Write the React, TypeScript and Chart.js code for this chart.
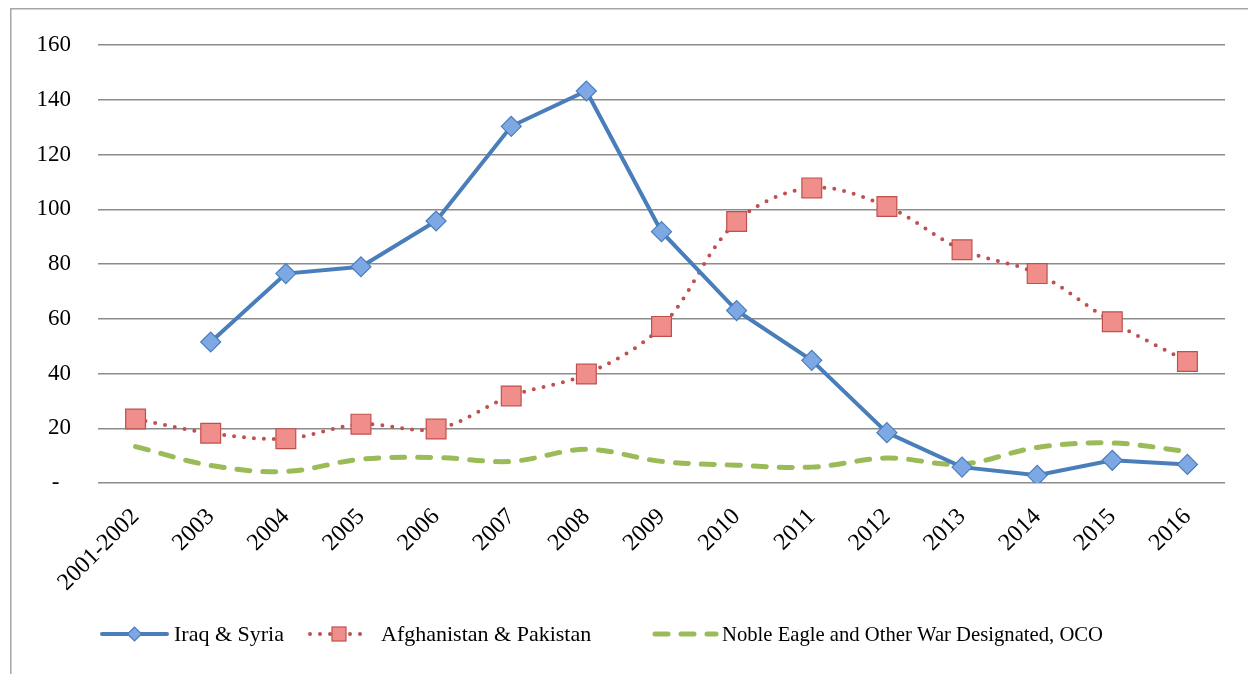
import React, { useEffect, useRef } from "react";
import { Chart, registerables } from "chart.js";

Chart.register(...registerables);

const categories = ["2001-2002", "2003", "2004", "2005", "2006", "2007", "2008", "2009", "2010", "2011", "2012", "2013", "2014", "2015", "2016"];
const iraqSyria = [null, 51.5, 76.5, 79, 95.7, 130.3, 143.2, 91.8, 63, 44.8, 18.4, 5.8, 2.8, 8.3, 6.8];
const afghanPak = [23.4, 18.2, 16.2, 21.5, 19.7, 31.8, 39.8, 57.2, 95.5, 107.8, 101, 85.2, 76.5, 58.9, 44.4];
const nobleEagle = [13.3, 6.4, 4.2, 8.7, 9.3, 7.9, 12.3, 7.9, 6.5, 5.8, 9.1, 6.9, 13, 14.6, 11.5];
const yTicks = [0, 20, 40, 60, 80, 100, 120, 140, 160];
const seriesNames = ["Iraq & Syria", "Afghanistan & Pakistan", "Noble Eagle and Other War Designated, OCO"];

const BLUE = "#4a7ebb";
const BLUE_FILL = "#7ea8e4";
const RED = "#c0504d";
const RED_FILL = "#f08e8b";
const GREEN = "#9bbb59";
const FONT = "'Liberation Serif', 'Times New Roman', serif";

const framePlugin = {
  id: "frame",
  beforeDraw(chart: any) {
    const ctx = chart.ctx;
    ctx.save();
    ctx.strokeStyle = "#a6a6a6";
    ctx.lineWidth = 1.5;
    ctx.strokeRect(10.75, 8.75, 1400, 800);
    ctx.restore();
  },
};

const legendPlugin = {
  id: "customLegend",
  afterDraw(chart: any) {
    const ctx = chart.ctx;
    const y = 634;
    ctx.save();
    ctx.font = `22px ${FONT}`;
    ctx.textBaseline = "middle";
    ctx.fillStyle = "#000";
    const starts = [102, 308, 655];
    const sampleW = [65, 62, 61];
    const textGap = [7, 11, 6];
    const maxW = [120, 216, 381];
    chart.data.datasets.forEach((ds: any, i: number) => {
      const x0 = starts[i];
      const x1 = x0 + sampleW[i];
      ctx.save();
      ctx.strokeStyle = ds.borderColor;
      ctx.lineWidth = ds.borderWidth;
      ctx.lineCap = ds.borderCapStyle || "butt";
      ctx.setLineDash(ds.borderDash || []);
      ctx.beginPath();
      ctx.moveTo(x0 + (i === 1 ? 2 : 0), y);
      ctx.lineTo(x1, y);
      ctx.stroke();
      ctx.restore();
      const cx = (x0 + x1) / 2;
      if (i === 0) {
        ctx.save();
        ctx.fillStyle = BLUE_FILL;
        ctx.strokeStyle = BLUE;
        ctx.lineWidth = 1.2;
        ctx.beginPath();
        ctx.moveTo(cx - 7, y);
        ctx.lineTo(cx, y - 7);
        ctx.lineTo(cx + 7, y);
        ctx.lineTo(cx, y + 7);
        ctx.closePath();
        ctx.fill();
        ctx.stroke();
        ctx.restore();
      } else if (i === 1) {
        ctx.save();
        ctx.fillStyle = RED_FILL;
        ctx.strokeStyle = RED;
        ctx.lineWidth = 1.2;
        ctx.fillRect(cx - 7, y - 7, 14, 14);
        ctx.strokeRect(cx - 7, y - 7, 14, 14);
        ctx.restore();
      }
      ctx.fillStyle = "#000";
      ctx.fillText(seriesNames[i], x1 + textGap[i], y + 1, maxW[i]);
    });
    ctx.restore();
  },
};

export default function App() {
  const ref = useRef<HTMLCanvasElement>(null);
  useEffect(() => {
    if (!ref.current) return;
    const chart = new Chart(ref.current, {
      type: "line",
      data: {
        labels: categories,
        datasets: [
          {
            label: seriesNames[0],
            data: iraqSyria,
            borderColor: BLUE,
            borderWidth: 4,
            backgroundColor: BLUE_FILL,
            pointStyle: "rectRot",
            pointRadius: 10,
            pointBackgroundColor: BLUE_FILL,
            pointBorderColor: BLUE,
            pointBorderWidth: 1.2,
            tension: 0,
            borderCapStyle: "round",
          },
          {
            label: seriesNames[1],
            data: afghanPak,
            borderColor: RED,
            borderWidth: 4,
            borderDash: [0, 10],
            borderCapStyle: "round",
            backgroundColor: RED_FILL,
            pointStyle: "rect",
            pointRadius: 14,
            pointBackgroundColor: RED_FILL,
            pointBorderColor: RED,
            pointBorderWidth: 1.2,
            tension: 0.35,
          },
          {
            label: seriesNames[2],
            data: nobleEagle,
            borderColor: GREEN,
            borderWidth: 5,
            borderDash: [13, 13],
            borderCapStyle: "round",
            pointRadius: 0,
            tension: 0.35,
          },
        ],
      },
      options: {
        responsive: false,
        animation: false,
        layout: { padding: { left: 0, top: 45, right: 23, bottom: 0 } },
        plugins: {
          legend: { display: false },
          tooltip: { enabled: false },
        },
        scales: {
          x: {
            offset: true,
            grid: { display: false, drawTicks: false },
            border: { display: false },
            ticks: {
              autoSkip: false,
              maxRotation: 45,
              minRotation: 45,
              padding: 20,
              color: "#000",
              font: { family: FONT, size: 24 },
            },
            afterFit: (s: any) => {
              s.height = 191;
            },
          },
          y: {
            min: 0,
            max: 160,
            afterBuildTicks: (s: any) => {
              s.ticks = yTicks.map((v) => ({ value: v }));
            },
            grid: { color: "#8c8c8c", lineWidth: 1.5, drawTicks: false },
            border: { display: false },
            ticks: {
              padding: 27,
              color: "#000",
              font: { family: FONT, size: 23 },
              callback: (v: any) => (Number(v) === 0 ? "-  " : String(v)),
            },
            afterFit: (s: any) => {
              s.width = 98;
            },
          },
        },
      },
      plugins: [framePlugin, legendPlugin],
    });
    return () => chart.destroy();
  }, []);
  return (
    <canvas
      ref={ref}
      width={1248}
      height={674}
      style={{ position: "absolute", left: 0, top: 0, display: "block" }}
    />
  );
}
